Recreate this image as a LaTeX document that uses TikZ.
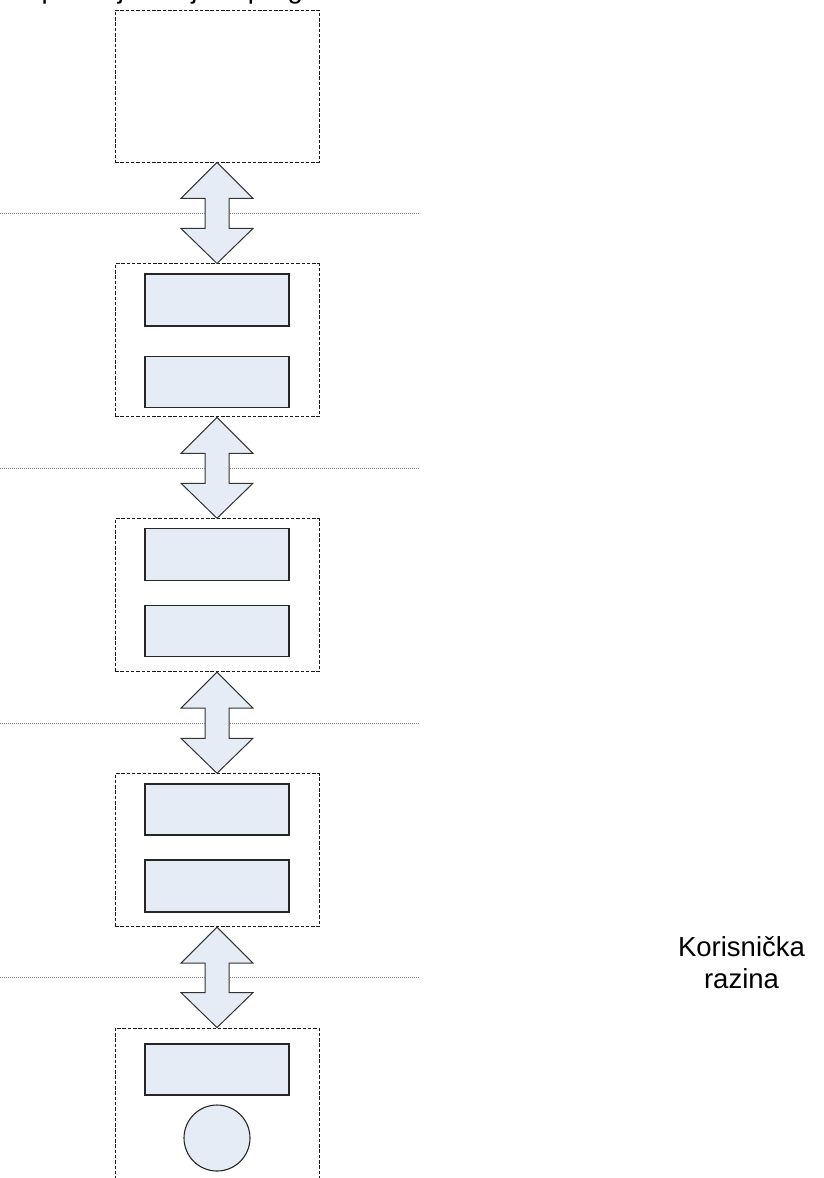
\documentclass[tikz,border=0pt]{standalone}
\usepackage{fontspec}
\setmainfont{Liberation Sans}
\usetikzlibrary{calc}
\definecolor{boxfill}{HTML}{E6ECF6}
\definecolor{dotgray}{HTML}{8C8C8C}
\newcommand\blockarrowpath[2]{%
  \draw[blockarrow] (#1.south) -- ++(36,36) -- ++(-24,0) -- ($(#2.north)+(12,-35)$) -- ++(24,0)
    -- (#2.north) -- ++(-36,-35) -- ++(24,0) -- ($(#1.south)+(-12,36)$) -- ++(-24,0) -- cycle;}
\begin{document}
\begin{tikzpicture}[x=1pt,y=-1pt,
  layer/.style={draw=black!90, dash pattern=on 3.5pt off 1.8pt, line width=0.9pt, minimum width=204pt, inner sep=0pt},
  unit/.style={draw=black!85, fill=boxfill, line width=1.1pt, minimum width=144pt, minimum height=52pt, inner sep=0pt},
  actor/.style={circle, draw=black!85, fill=boxfill, line width=1.1pt, minimum size=66pt, inner sep=0pt},
  blockarrow/.style={draw=black!80, fill=boxfill, line width=1pt, line join=miter},
  sep/.style={draw=dotgray, dash pattern=on 1pt off 1pt, line width=0.8pt},
  lbl/.style={font=\fontsize{27.5}{31.5}\selectfont, inner sep=0pt, align=center}]
\useasboundingbox (0,0) rectangle (824,1178);

% separators
\draw[sep] (0,213) -- (420,213);
\draw[sep] (0,468) -- (420,468);
\draw[sep] (0,723) -- (420,723);
\draw[sep] (0,977) -- (420,977);

% layers
\node[layer, minimum height=152pt] (L1) at (217,86) {};
\node[layer, minimum height=153pt] (L2) at (217,340.4) {};
\node[layer, minimum height=153pt] (L3) at (217,595.2) {};
\node[layer, minimum height=153pt] (L4) at (217,850.2) {};
\node[layer, minimum height=170pt] (L5) at (217,1113) {};

% units
\node[unit] (U2a) at (217,300) {};
\node[unit, minimum height=51pt] (U2b) at (217,381.7) {};
\node[unit] (U3a) at (217,554.7) {};
\node[unit, minimum height=51pt] (U3b) at (217,631.2) {};
\node[unit, minimum height=51pt] (U4a) at (217,809.5) {};
\node[unit] (U4b) at (217,886) {};
\node[unit, minimum height=51pt] (U5a) at (217,1069.5) {};
\node[actor] (user) at (217,1138) {};

% block arrows
\blockarrowpath{L1}{L2}
\blockarrowpath{L2}{L3}
\blockarrowpath{L3}{L4}
\blockarrowpath{L4}{L5}

% texts
\node[lbl, anchor=base west] (title) at (23,-2) {Aplikacija i objekti programa};
\node[lbl, anchor=north] (userlevel) at (741.5,936.5) {Korisnička\\razina};
\end{tikzpicture}
\end{document}
